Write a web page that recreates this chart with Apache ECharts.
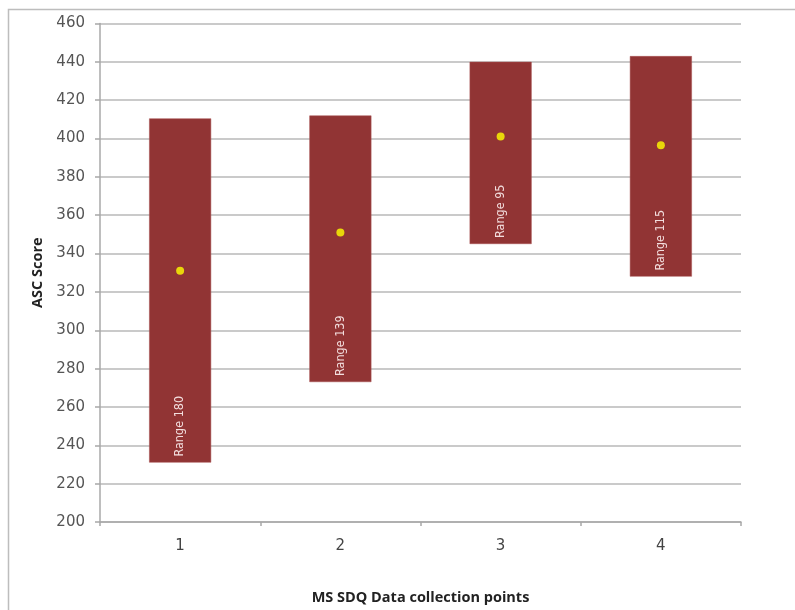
<!DOCTYPE html>
<html>
<head>
<meta charset="utf-8">
<script src="https://cdn.jsdelivr.net/npm/echarts@6/dist/echarts.min.js"></script>
<style>
html,body{margin:0;padding:0;background:#fff;overflow:hidden;}
#chart{width:795px;height:610px;}
</style>
</head>
<body>
<div id="chart"></div>
<script>
// Data
var categories = ['1', '2', '3', '4'];
var lowValues = [231, 273, 345, 328];
var highValues = [410.5, 412, 440, 443];
var meanValues = [331, 351, 401, 396.5];
var rangeLabels = ['Range 180', 'Range 139', 'Range 95', 'Range 115'];
var yTicks = { min: 200, max: 460, interval: 20 };

var spanValues = highValues.map(function (h, i) { return h - lowValues[i]; });

var chart = echarts.init(document.getElementById('chart'), null, { renderer: 'canvas', width: 795, height: 610 });
var gridColor = '#b8b8b8';
var option = {
  animation: false,
  backgroundColor: '#ffffff',
  graphic: [{
    type: 'rect',
    shape: { x: 8.5, y: 9.5, width: 900, height: 700 },
    style: { fill: 'none', stroke: '#bdbdbd', lineWidth: 1.5 },
    silent: true,
    z: -10
  }],
  grid: { left: 100, right: 54, top: 23.5, bottom: 86, containLabel: false },
  xAxis: {
    type: 'category',
    data: categories,
    boundaryGap: true,
    name: 'MS SDQ Data collection points',
    nameLocation: 'middle',
    nameGap: 68,
    nameTextStyle: { fontFamily: 'Open Sans', fontWeight: 'bold', fontSize: 14.5, color: '#222' },
    axisLine: { show: true, lineStyle: { color: '#a8a8a8', width: 1.5 } },
    axisTick: { show: true, length: 4, alignWithLabel: false, lineStyle: { color: '#a8a8a8', width: 1.5 } },
    axisLabel: { margin: 17, fontFamily: 'DejaVu Sans', fontSize: 15, color: '#444' },
    splitLine: { show: false }
  },
  yAxis: {
    type: 'value',
    min: yTicks.min,
    max: yTicks.max,
    interval: yTicks.interval,
    name: 'ASC Score',
    nameLocation: 'middle',
    nameGap: 52,
    nameRotate: 90,
    nameTextStyle: { fontFamily: 'Open Sans', fontWeight: 'bold', fontSize: 14.5, color: '#222' },
    axisLine: { show: true, lineStyle: { color: '#a8a8a8', width: 1.5 } },
    axisTick: { show: true, length: 5, lineStyle: { color: '#a8a8a8', width: 1.5 } },
    axisLabel: { margin: 15, fontFamily: 'DejaVu Sans', fontSize: 15, color: '#555' },
    splitLine: { show: true, lineStyle: { color: gridColor, width: 1.5 } }
  },
  series: [
    {
      type: 'bar',
      stack: 'range',
      data: lowValues,
      barWidth: 62,
      itemStyle: { color: 'transparent' },
      silent: true
    },
    {
      type: 'bar',
      stack: 'range',
      data: spanValues,
      barWidth: 62,
      itemStyle: { color: '#913434', borderColor: '#a85050', borderWidth: 0.5 },
      label: {
        show: true,
        position: 'insideBottom',
        distance: 6,
        rotate: 90,
        align: 'left',
        verticalAlign: 'middle',
        fontFamily: 'DejaVu Sans Condensed, DejaVu Sans',
        fontSize: 12.5,
        color: '#f3dede',
        formatter: function (p) { return rangeLabels[p.dataIndex]; }
      }
    },
    {
      type: 'scatter',
      data: meanValues,
      symbol: 'circle',
      symbolSize: 8,
      itemStyle: { color: '#ffff00' },
      z: 5
    }
  ]
};
chart.setOption(option);
</script>
</body>
</html>
